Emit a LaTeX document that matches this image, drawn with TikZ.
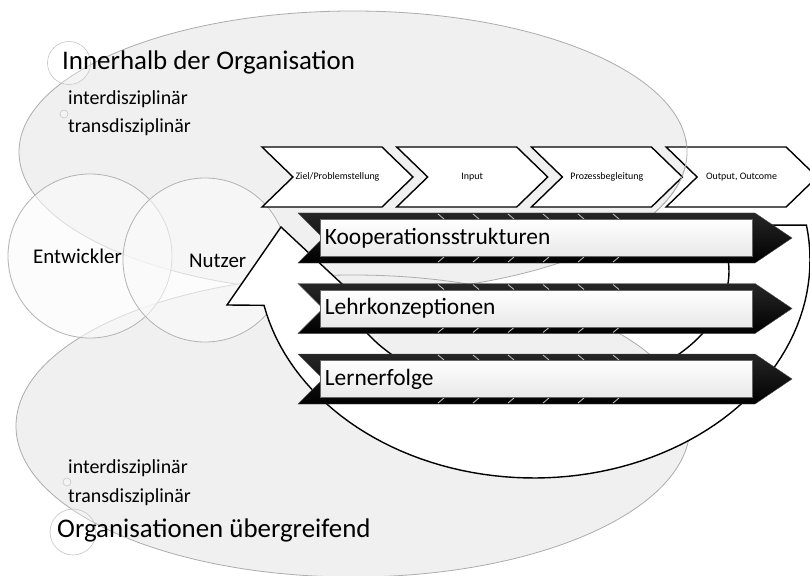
\documentclass[tikz,border=0pt]{standalone}
\usepackage{fontspec}
\setmainfont{Carlito}
\usepackage{tikz}
\usetikzlibrary{shapes, calc}

\begin{document}
\begin{tikzpicture}
  [
    x=1bp, y=-1bp,
    Bubble/.style={draw=gray!65, fill=gray!12, line width=0.8bp},
    Person/.style={circle, draw=gray!60, fill=gray!4, fill opacity=0.6, line width=0.8bp, minimum size=164bp, inner sep=0pt},
    Dot/.style={circle, draw=gray!45, fill=white, fill opacity=0.3, line width=0.6bp, inner sep=0pt},
    Chevron/.style={draw=black, fill=white, line width=1.4bp},
    Ring/.style={draw=black, fill=white, line width=1.4bp},
    Band/.style={top color=black!85, middle color=black, bottom color=black, draw=black!70},
    Plate/.style={rectangle, top color=white, bottom color=gray!18, draw=black!60, line width=0.7bp, minimum width=432bp, minimum height=37bp, inner sep=0pt},
    Tick/.style={draw=gray!55, line width=0.9bp},
    Title/.style={anchor=base west, inner sep=0pt, font=\fontsize{27}{30}\selectfont},
    Sub/.style={anchor=base west, inner sep=0pt, font=\fontsize{20}{22}\selectfont},
    Label/.style={anchor=base west, inner sep=0pt, font=\fontsize{21}{24}\selectfont},
    Small/.style={inner sep=0pt, font=\fontsize{10}{12}\selectfont},
    Big/.style={anchor=west, inner sep=0pt, font=\fontsize{23.5}{26}\selectfont}
  ]
  \fill[white] (0,0) rectangle (810,576);
  \useasboundingbox (0,0) rectangle (810,576);
  % Bubbles
  \draw[Bubble] (353,152) ellipse [x radius=334, y radius=141];
  \draw[Bubble] (353,426) ellipse [x radius=337, y radius=151];
  \node[Person] (dev) at (90,256) {};
  \node[Person] (user) at (205,260) {};
  \node[Dot, minimum size=43bp] (ring1) at (69,63) {};
  \node[Dot, minimum size=8bp] (dot1) at (64,114) {};
  \node[Dot, minimum size=8bp] (dot2) at (67,482) {};
  \node[Dot, minimum size=46bp] (ring2) at (73,532) {};
  % Texts
  \node[Title] (inside) at (62,70) {Innerhalb der Organisation};
  \node[Sub] (inter1) at (68,105) {interdisziplinär};
  \node[Sub] (trans1) at (68,133) {transdisziplinär};
  \node[Sub] (inter2) at (68,473) {interdisziplinär};
  \node[Sub] (trans2) at (68,502) {transdisziplinär};
  \node[Title] (across) at (57,537) {Organisationen übergreifend};
  \node[Label] (devtext) at (33,263) {Entwickler};
  \node[Label] (usertext) at (189,267) {Nutzer};
  % Phases
  \foreach \lbl [count=\i from 0] in {Ziel/Problemstellung, Input, Prozessbegleitung, {Output, Outcome}} {
    \pgfmathsetmacro\cl{262+134.7*\i}
    \draw[Chevron] (\cl,147) -- (\cl+120,147) -- (\cl+151,177) -- (\cl+120,207) -- (\cl,207) -- (\cl+31,177) -- cycle;
    \node[Small] (phase\i) at (\cl+75.5,177) {\lbl};
  }
  \begin{scope}
    \clip (600,140) rectangle (700,215);
    \draw[gray!60, line width=0.8bp] (353,152) ellipse [x radius=334, y radius=141];
  \end{scope}
  % Cycle
  \draw[Ring] plot[domain=-9.2:168, samples=80, variable=\t] ({534+276*cos(\t)},{260+218*sin(\t)})
    -- (227,305) -- (281,227) -- (342,284)
    -- plot[domain=174:-21.8, samples=80, variable=\t] ({535+194*cos(\t)},{271+124*sin(\t)}) -- cycle;
  % Bars
  \foreach \txt [count=\i from 0] in {Kooperationsstrukturen, Lehrkonzeptionen, Lernerfolge} {
    \pgfmathsetmacro\cy{238+70.5*\i}
    \shade[Band] (298,\cy-25) -- (755,\cy-25) -- (792,\cy) -- (755,\cy+25) -- (298,\cy+25) -- (323,\cy) -- cycle;
    \foreach \tx in {443,478,513,548,583,618} {
      \draw[Tick] (\tx-5,\cy-24) -- (\tx+1,\cy-19);
      \draw[Tick] (\tx-5,\cy+24) -- (\tx+1,\cy+19);
    }
    \node[Plate] (bar\i) at (536,\cy) {};
    \node[Big, xshift=5bp] (task\i) at (bar\i.west) {\txt};
  }
\end{tikzpicture}
\end{document}
